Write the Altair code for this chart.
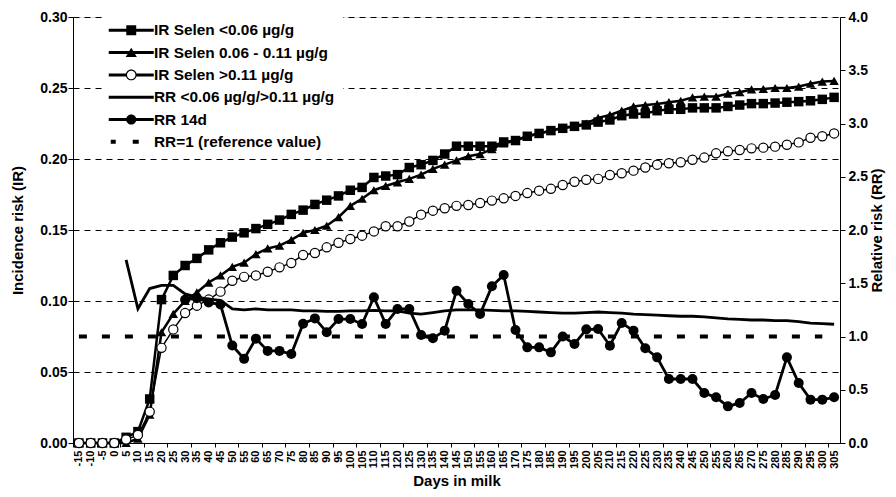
import altair as alt
import pandas as pd

# ---------------- data ----------------
days = list(range(-15, 306, 5))

ir_low = [0, 0, 0, 0, 0.004, 0.008, 0.031, 0.101, 0.118, 0.125,
          0.130, 0.136, 0.141, 0.145, 0.148, 0.151, 0.154, 0.157, 0.161, 0.164,
          0.168, 0.171, 0.174, 0.178, 0.180, 0.187, 0.188, 0.189, 0.194, 0.196,
          0.199, 0.2035, 0.209, 0.209, 0.209, 0.209, 0.212, 0.213, 0.216, 0.218,
          0.220, 0.2216, 0.223, 0.224, 0.226, 0.2275, 0.2305, 0.2317, 0.232, 0.234,
          0.235, 0.235, 0.236, 0.236, 0.236, 0.237, 0.238, 0.239, 0.239, 0.2394,
          0.240, 0.2404, 0.241, 0.242, 0.2434]

ir_mid = [0, 0, 0, 0, 0, 0.003, 0.020, 0.078, 0.091, 0.100,
          0.106, 0.113, 0.118, 0.124, 0.127, 0.133, 0.137, 0.139, 0.143, 0.148,
          0.150, 0.153, 0.159, 0.167, 0.172, 0.178, 0.181, 0.1836, 0.186, 0.189,
          0.193, 0.196, 0.199, 0.202, 0.2035, 0.207, 0.211, 0.213, 0.216, 0.218,
          0.220, 0.222, 0.223, 0.225, 0.229, 0.231, 0.234, 0.237, 0.238, 0.2387,
          0.240, 0.241, 0.2434, 0.244, 0.244, 0.246, 0.247, 0.249, 0.2493, 0.250,
          0.250, 0.251, 0.253, 0.2545, 0.255]

ir_high = [0, 0, 0, 0, 0.0024, 0.0056, 0.022, 0.067, 0.080, 0.0915,
           0.0967, 0.101, 0.1066, 0.1143, 0.117, 0.118, 0.1206, 0.1237, 0.1268, 0.1324,
           0.1338, 0.1378, 0.141, 0.1437, 0.146, 0.149, 0.1526, 0.1526, 0.156, 0.1608,
           0.1636, 0.1653, 0.167, 0.1676, 0.169, 0.1707, 0.1723, 0.174, 0.176, 0.1777,
           0.179, 0.1817, 0.184, 0.1854, 0.186, 0.1887, 0.190, 0.1918, 0.194, 0.196,
           0.197, 0.1977, 0.1995, 0.201, 0.204, 0.2054, 0.2063, 0.2075, 0.208, 0.2087,
           0.210, 0.2117, 0.215, 0.216, 0.218]

rr_low_high = [None, None, None, None, 1.72, 1.26, 1.45, 1.48, 1.48, 1.40,
               1.37, 1.35, 1.34, 1.26, 1.25, 1.26, 1.25, 1.25, 1.25, 1.24,
               1.24, 1.235, 1.235, 1.24, 1.24, 1.245, 1.24, 1.24, 1.22, 1.21,
               1.225, 1.24, 1.25, 1.25, 1.25, 1.245, 1.24, 1.24, 1.235, 1.23,
               1.225, 1.22, 1.22, 1.225, 1.23, 1.225, 1.22, 1.21, 1.205, 1.20,
               1.195, 1.19, 1.19, 1.185, 1.175, 1.165, 1.16, 1.155, 1.155, 1.15,
               1.15, 1.14, 1.125, 1.12, 1.115]

rr_14d = [None, None, None, None, None, None, None, None, None, 1.345,
          1.36, 1.32, 1.30, 0.915, 0.79, 0.98, 0.865, 0.865, 0.835, 1.12,
          1.17, 1.04, 1.164, 1.164, 1.117, 1.368, 1.117, 1.258, 1.258, 1.014,
          0.983, 1.055, 1.43, 1.305, 1.211, 1.471, 1.577, 1.061, 0.898, 0.898,
          0.851, 1.0, 0.93, 1.067, 1.07, 0.914, 1.127, 1.055, 0.889, 0.804,
          0.601, 0.601, 0.601, 0.469, 0.429, 0.344, 0.376, 0.469, 0.413, 0.451,
          0.804, 0.563, 0.407, 0.407, 0.429]

rr_reference = [1.0] * 64 + [None]

legend_labels = ["IR Selen <0.06 \u00b5g/g",
                 "IR Selen 0.06 - 0.11 \u00b5g/g",
                 "IR Selen >0.11 \u00b5g/g",
                 "RR <0.06 \u00b5g/g/>0.11 \u00b5g/g",
                 "RR 14d",
                 "RR=1 (reference value)"]

ir_ticks = [0, 0.05, 0.10, 0.15, 0.20, 0.25, 0.30]
rr_ticks = [0, 0.5, 1.0, 1.5, 2.0, 2.5, 3.0, 3.5, 4.0]

# ---------------- table ----------------
df = pd.DataFrame({
    "day": days,
    "ir_low": ir_low,
    "ir_mid": ir_mid,
    "ir_high": ir_high,
    "rr_low_high": rr_low_high,
    "rr_14d": rr_14d,
    "rr_reference": rr_reference,
})
long = df.melt(id_vars="day", var_name="series", value_name="value")

FONT = "Liberation Sans"
W, H = 767, 426
STEP = W / (len(days))

# ---------------- legend symbols (fill-only custom paths, 1 unit = 8 px) ----------------
MC = 1.656
HALF = 2.8125
X0, X1 = MC - HALF, MC + HALF
LH = 0.19  # half thickness of the legend line


def f(v):
    return f"{v:.3f}"


def rect(xa, xb, h):
    return f"M{f(xa)},{f(-h)}L{f(xb)},{f(-h)}L{f(xb)},{f(h)}L{f(xa)},{f(h)}Z"


def circ(cx, r, sweep):
    return (f"M{f(cx - r)},0A{f(r)},{f(r)} 0 1 {sweep} {f(cx + r)},0"
            f"A{f(r)},{f(r)} 0 1 {sweep} {f(cx - r)},0Z")


p_square = rect(X0, X1, LH) + rect(MC - 0.62, MC + 0.62, 0.62)
p_tri = rect(X0, X1, LH) + f"M{f(MC)},-0.62L{f(MC + 0.7)},0.56L{f(MC - 0.7)},0.56Z"
r_o, r_i = 0.68, 0.53
p_ring = (rect(X0, MC - 0.6, LH) + rect(MC + 0.6, X1, LH)
          + circ(MC, r_o, 1) + circ(MC, r_i, 0))
p_line = rect(X0, X1, LH)
p_dot = rect(X0, X1, LH) + circ(MC, 0.64, 1)
p_ref = rect(X0 + 0.25, X0 + 0.875, 0.25) + rect(X0 + 3.0, X0 + 3.75, 0.25)
legend_paths = [p_square, p_tri, p_ring, p_line, p_dot, p_ref]

# ---------------- encodings ----------------
x_enc = alt.X(
    "day:O",
    scale=alt.Scale(domain=days),
    title="Days in milk",
    axis=alt.Axis(
        labelAngle=-90, labelFont=FONT, labelFontWeight="bold", labelFontSize=11,
        labelColor="black", labelOverlap=False, labelPadding=3,
        tickColor="black", tickSize=4, domainColor="black", domainWidth=1,
        tickOffset=-STEP / 2, labelOffset=STEP / 2,
        tickOpacity={"condition": {"test": "abs(datum.value) % 10 == 5", "value": 1}, "value": 0},
        titleFont=FONT, titleFontWeight="bold", titleFontSize=15, titleColor="black",
        titlePadding=5, grid=False,
    ),
)

ir_y = alt.Y(
    "value:Q",
    scale=alt.Scale(domain=[0, 0.3], nice=False),
    title="Incidence risk (IR)",
    axis=alt.Axis(
        values=ir_ticks, format=".2f", grid=True, gridDash=[6, 5], gridColor="black",
        gridWidth=1, gridOpacity=1, domainColor="black", tickColor="black", tickSize=5,
        labelPadding=1,
        labelFont=FONT, labelFontWeight="bold", labelFontSize=14, labelColor="black",
        titleFont=FONT, titleFontWeight="bold", titleFontSize=15, titleColor="black",
        titlePadding=14,
    ),
)

rr_y = alt.Y(
    "value:Q",
    scale=alt.Scale(domain=[0, 4], nice=False),
    title="Relative risk (RR)",
    axis=alt.Axis(
        orient="right", values=rr_ticks, format=".1f", grid=False,
        domainColor="black", tickColor="black", tickSize=5, labelPadding=3,
        labelFont=FONT, labelFontWeight="bold", labelFontSize=14, labelColor="black",
        titleFont=FONT, titleFontWeight="bold", titleFontSize=15, titleColor="black",
        titleAngle=270, titlePadding=17,
    ),
)


def sel(name):
    return alt.Chart(long).transform_filter(alt.datum.series == name)


sq_line = sel("ir_low").mark_line(color="black", strokeWidth=2.5).encode(x=x_enc, y=ir_y)
sq_pts = sel("ir_low").mark_point(shape="square", filled=True, color="black",
                                  size=90, opacity=1).encode(x=x_enc, y=ir_y)
tri_line = sel("ir_mid").mark_line(color="black", strokeWidth=2.5).encode(x=x_enc, y=ir_y)
tri_pts = sel("ir_mid").mark_point(shape="triangle-up", filled=True, color="black",
                                   size=90, opacity=1).encode(x=x_enc, y=ir_y)
ci_line = sel("ir_high").mark_line(color="black", strokeWidth=1.5).encode(x=x_enc, y=ir_y)
ci_pts = sel("ir_high").mark_point(shape="circle", filled=True, fill="white", stroke="black",
                                   strokeWidth=1.2, size=85, opacity=1).encode(x=x_enc, y=ir_y)

ref_line = sel("rr_reference").mark_line(color="black", strokeWidth=4,
                                         strokeDash=[8, 15]).encode(x=x_enc, y=rr_y)
rr_line = sel("rr_low_high").mark_line(color="black", strokeWidth=2.8).encode(x=x_enc, y=rr_y)
d_line = sel("rr_14d").mark_line(color="black", strokeWidth=2.8).encode(x=x_enc, y=rr_y)
d_pts = sel("rr_14d").mark_point(shape="circle", filled=True, color="black",
                                 size=100, opacity=1).encode(x=x_enc, y=rr_y)

legend_df = pd.DataFrame({"series": legend_labels})
legend_layer = alt.Chart(legend_df).mark_point(
    filled=True, color="black", opacity=0
).encode(
    shape=alt.Shape(
        "series:N",
        title=None,
        scale=alt.Scale(domain=legend_labels, range=legend_paths),
        legend=alt.Legend(
            orient="none", legendX=29, legendY=-2.7, fillColor="white", padding=8,
            symbolSize=256, symbolStrokeWidth=0, symbolFillColor="black",
            symbolStrokeColor="black", symbolOpacity=1, gridAlign="all",
            labelFont=FONT, labelFontSize=15.4, labelFontWeight="bold", labelColor="black",
            labelOffset=28, rowPadding=5.3, labelLimit=400,
        ),
    )
)

ir_layer = alt.layer(sq_line, sq_pts, tri_line, tri_pts, ci_line, ci_pts)
rr_layer = alt.layer(ref_line, rr_line, d_line, d_pts)

chart = (
    alt.layer(ir_layer, rr_layer, legend_layer)
    .resolve_scale(y="independent")
    .properties(
        width=W, height=H,
        padding={"left": 65, "top": 9, "right": 48, "bottom": 46},
        autosize=alt.AutoSizeParams(type="none"),
    )
    .configure_view(stroke=None)
    .configure(font=FONT)
)

chart.save("out.html", embed_options={"renderer": "svg", "actions": False})
